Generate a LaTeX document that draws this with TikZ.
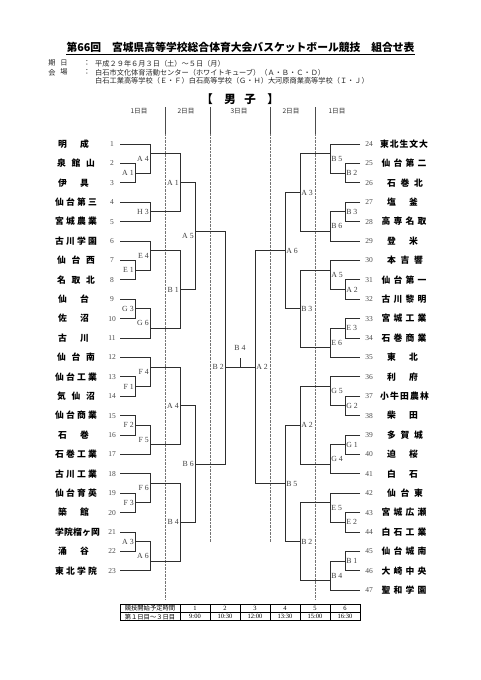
\documentclass[tikz,border=0pt]{standalone}
\usepackage{fontspec}
\setmainfont{Liberation Serif}
\newfontfamily\jp{Noto Sans CJK JP}
\makeatletter
\def\sp@read#1{#1\futurelet\sp@next\sp@check}
\def\sp@check{\ifx\sp@next\relax\expandafter\@gobble\else\expandafter\sp@more\fi}
\def\sp@more{\hfil\sp@read}
\newcommand\spreadtxt[1]{\sp@read#1\relax}
\makeatother
\newcommand\LM[7]{%
  \draw[br] (#2,{Y(#3)}) -| (#6,{Y(#5)}) -- (#4,{Y(#5)});
  \node[lblL] (#1) at (#6-0.8,{Y((#3+#5)/2)}) {#7};}
\newcommand\RM[7]{%
  \draw[br] (#2,{R(#3)}) -| (#6,{R(#5)}) -- (#4,{R(#5)});
  \node[lblR] (#1) at (#6+0.8,{R((#3+#5)/2)}) {#7};}
\newcommand\TL[4]{%
  \node[tname] (tn#1) at (#3,{Y(#1)}) {\makebox[#2pt][s]{\spreadtxt{#4}}};
  \node[num] (no#1) at (112,{Y(#1)}) {#1};}
\newcommand\TR[4]{%
  \node[tname] (tn#1) at (#3,{R(#1)}) {\makebox[#2pt][s]{\spreadtxt{#4}}};
  \node[num] (no#1) at (369,{R(#1)}) {#1};}
\begin{document}
\begin{tikzpicture}[x=1pt,y=-1pt,
  declare function={Y(\r)=144+19.4*(\r-1); R(\j)=144+19.4*(\j-24);},
  br/.style={draw=black!82, line width=0.95pt},
  dotl/.style={draw=black!55, line width=0.5pt, dash pattern=on 0.7pt off 0.7pt},
  sep/.style={draw=black!70, line width=0.6pt},
  lblL/.style={anchor=east, inner sep=0.3pt, font=\fontsize{7.8}{8}\selectfont, text=black!75},
  lblR/.style={anchor=west, inner sep=0.3pt, font=\fontsize{7.8}{8}\selectfont, text=black!75},
  num/.style={inner sep=0pt, font=\fontsize{7.5}{8}\selectfont, text=black!70},
  tname/.style={inner sep=0pt, font=\jp\bfseries\fontsize{8.8}{10}\selectfont},
  jtxt/.style={inner sep=0pt, font=\jp\fontsize{7.2}{8}\selectfont, text=black!85},
  day/.style={inner sep=0pt, font=\jp\fontsize{6.6}{7}\selectfont, text=black!80},
  head/.style={inner sep=0pt, font=\jp\bfseries\fontsize{11.5}{13}\selectfont},
  tcell/.style={inner sep=0pt, font=\jp\fontsize{6.3}{7}\selectfont},
  tnum/.style={inner sep=0pt, font=\fontsize{6.5}{7}\selectfont}
]
\useasboundingbox[fill=white] (0,0) rectangle (481,680);

% title
\node[inner sep=0pt, font=\jp\bfseries\fontsize{10.8}{12}\selectfont] (title) at (240.5,47)
  {第66回　宮城県高等学校総合体育大会バスケットボール競技　組合せ表};
\draw[line width=0.7pt] ([yshift=-2pt]title.south west) -- ([yshift=-2pt]title.south east);

% info
\node[jtxt] (k1) at (52,63.3) {期};
\node[jtxt] (k2) at (64,63.3) {日};
\node[jtxt] (k3) at (87,63.3) {：};
\node[jtxt, anchor=west] (i1) at (95,63.3) {平成２９年６月３日（土）～５日（月）};
\node[jtxt] (k4) at (52,72.3) {会};
\node[jtxt] (k5) at (64,72.3) {場};
\node[jtxt] (k6) at (87,72.3) {：};
\node[jtxt, anchor=west] (i2) at (95,72.3) {白石市文化体育活動センター（ホワイトキューブ）（Ａ・Ｂ・Ｃ・Ｄ）};
\node[jtxt, anchor=west] (i3) at (95,81.2) {白石工業高等学校（Ｅ・Ｆ）白石高等学校（Ｇ・Ｈ）大河原商業高等学校（Ｉ・Ｊ）};

% heading
\node[head] (h1) at (207,99) {【};
\node[head] (h2) at (230,99) {男};
\node[head] (h3) at (250,99) {子};
\node[head] (h4) at (273,99) {】};

% day headers
\node[day] (d1) at (139,111) {1日目};
\node[day] (d2) at (186,111) {2日目};
\node[day] (d3) at (239,111) {3日目};
\node[day] (d4) at (291,111) {2日目};
\node[day] (d5) at (337,111) {1日目};
\foreach \x in {165,210,270,315} \draw[sep] (\x,107) -- (\x,134);
\draw[dotl] (165,134) -- (165,600);
\draw[dotl] (315,134) -- (315,600);
\draw[dotl] (210,134) -- (210,542);
\draw[dotl] (270,134) -- (270,542);

% left teams
\TL{1}{31}{73.5}{明成}
\TL{2}{38}{76}{泉館山}
\TL{3}{31}{73.5}{伊具}
\TL{4}{42}{76}{仙台第三}
\TL{5}{42}{76}{宮城農業}
\TL{6}{42}{76}{古川学園}
\TL{7}{38}{76}{仙台西}
\TL{8}{38}{76}{名取北}
\TL{9}{31}{73.5}{仙台}
\TL{10}{31}{73.5}{佐沼}
\TL{11}{31}{73.5}{古川}
\TL{12}{38}{76}{仙台南}
\TL{13}{42}{76}{仙台工業}
\TL{14}{38}{76}{気仙沼}
\TL{15}{42}{76}{仙台商業}
\TL{16}{31}{73.5}{石巻}
\TL{17}{42}{76}{石巻工業}
\TL{18}{42}{76}{古川工業}
\TL{19}{42}{76}{仙台育英}
\TL{20}{31}{73.5}{築館}
\TL{21}{45}{77.5}{学院榴ヶ岡}
\TL{22}{31}{73.5}{涌谷}
\TL{23}{42}{76}{東北学院}

% right teams
\TR{24}{48}{404}{東北生文大}
\TR{25}{45}{404}{仙台第二}
\TR{26}{36}{405}{石巻北}
\TR{27}{31}{402.5}{塩釜}
\TR{28}{45}{404}{高専名取}
\TR{29}{31}{402.5}{登米}
\TR{30}{36}{405}{本吉響}
\TR{31}{45}{404}{仙台第一}
\TR{32}{45}{404}{古川黎明}
\TR{33}{45}{404}{宮城工業}
\TR{34}{45}{404}{石巻商業}
\TR{35}{31}{402.5}{東北}
\TR{36}{31}{402.5}{利府}
\TR{37}{49}{404.5}{小牛田農林}
\TR{38}{31}{402.5}{柴田}
\TR{39}{36}{405}{多賀城}
\TR{40}{31}{402.5}{迫桜}
\TR{41}{31}{402.5}{白石}
\TR{42}{36}{405}{仙台東}
\TR{43}{45}{404}{宮城広瀬}
\TR{44}{45}{404}{白石工業}
\TR{45}{45}{404}{仙台城南}
\TR{46}{45}{404}{大崎中央}
\TR{47}{45}{404}{聖和学園}

% left bracket
\LM{lA1}{120}{2}{120}{3}{135}{A 1}
\LM{lA4}{120}{1}{135}{2.5}{150}{A 4}
\LM{lH3}{120}{4}{120}{5}{150}{H 3}
\LM{lA1b}{150}{1.5}{150}{4.5}{180}{A 1}
\LM{lE1}{120}{7}{120}{8}{135}{E 1}
\LM{lE4}{120}{6}{135}{7.5}{150}{E 4}
\LM{lG3}{120}{9}{120}{10}{135}{G 3}
\LM{lG6}{135}{9.5}{120}{11}{150}{G 6}
\LM{lB1}{150}{6.5}{150}{10.5}{180}{B 1}
\LM{lA5}{180}{3}{180}{8.5}{195}{A 5}
\LM{lF1}{120}{13}{120}{14}{135}{F 1}
\LM{lF4}{120}{12}{135}{13.5}{150}{F 4}
\LM{lF2}{120}{15}{120}{16}{135}{F 2}
\LM{lF5}{135}{15.5}{120}{17}{150}{F 5}
\LM{lA4b}{150}{12.5}{150}{16.5}{180}{A 4}
\LM{lF3}{120}{19}{120}{20}{135}{F 3}
\LM{lF6}{120}{18}{135}{19.5}{150}{F 6}
\LM{lA3}{120}{21}{120}{22}{135}{A 3}
\LM{lA6}{135}{21.5}{120}{23}{150}{A 6}
\LM{lB4}{150}{18.5}{150}{22.5}{180}{B 4}
\LM{lB6}{180}{14.5}{180}{20.5}{195}{B 6}
\draw[br] (195,{Y(5.5)}) -| (225,{Y(17.5)}) -- (195,{Y(17.5)});
\node[lblL] (lB2) at (224.2,{Y(12.5)}) {B 2};

% right bracket
\RM{rB2}{360}{25}{360}{26}{345}{B 2}
\RM{rB5}{360}{24}{345}{25.5}{330}{B 5}
\RM{rB3}{360}{27}{360}{28}{345}{B 3}
\RM{rB6}{345}{27.5}{360}{29}{330}{B 6}
\RM{rA3}{330}{24.5}{330}{28.5}{300}{A 3}
\RM{rA2a}{360}{31}{360}{32}{345}{A 2}
\RM{rA5}{360}{30}{345}{31.5}{330}{A 5}
\RM{rE3}{360}{33}{360}{34}{345}{E 3}
\RM{rE6}{345}{33.5}{360}{35}{330}{E 6}
\RM{rB3b}{330}{30.5}{330}{34.5}{300}{B 3}
\RM{rA6}{300}{26.5}{300}{32.5}{285}{A 6}
\RM{rG2}{360}{37}{360}{38}{345}{G 2}
\RM{rG5}{360}{36}{345}{37.5}{330}{G 5}
\RM{rG1}{360}{39}{360}{40}{345}{G 1}
\RM{rG4}{345}{39.5}{360}{41}{330}{G 4}
\RM{rA2b}{330}{36.5}{330}{40.5}{300}{A 2}
\RM{rE2}{360}{43}{360}{44}{345}{E 2}
\RM{rE5}{360}{42}{345}{43.5}{330}{E 5}
\RM{rB1}{360}{45}{360}{46}{345}{B 1}
\RM{rB4}{345}{45.5}{360}{47}{330}{B 4}
\RM{rB2b}{330}{42.5}{330}{46.5}{300}{B 2}
\RM{rB5b}{300}{38.5}{300}{44.5}{285}{B 5}
\RM{rA2f}{285}{29.5}{285}{41.5}{255}{A 2}

% final
\draw[br] (225,{Y(12.5)}) -- (255,{Y(12.5)});
\draw[br] (240,{Y(12.5)}) -- (240,358);
\node[inner sep=0pt, font=\fontsize{7.8}{8}\selectfont, text=black!75] (fB4) at (240,348) {B 4};

% schedule table
\draw[line width=0.5pt] (120,612.5) -- (360,612.5);
\foreach \x in {210,240,270,300,330} \draw[line width=0.5pt] (\x,604.5) -- (\x,620.5);
\draw[line width=0.9pt] (180,604.5) -- (180,620.5);
\draw[line width=1pt] (120,604.5) rectangle (360,620.5);
\node[tcell] (c0) at (150,608.6) {競技開始予定時間};
\node[tcell] (c1) at (150,616.6) {第１日目～３日目};
\foreach \i/\t [count=\k] in {1/9:00,2/10:30,3/12:00,4/13:30,5/15:00,6/16:30}{
  \node[tnum] (cn\k) at ({165+30*\k},608.6) {\i};
  \node[tnum] (ct\k) at ({165+30*\k},616.6) {\t};
}
\end{tikzpicture}
\end{document}
